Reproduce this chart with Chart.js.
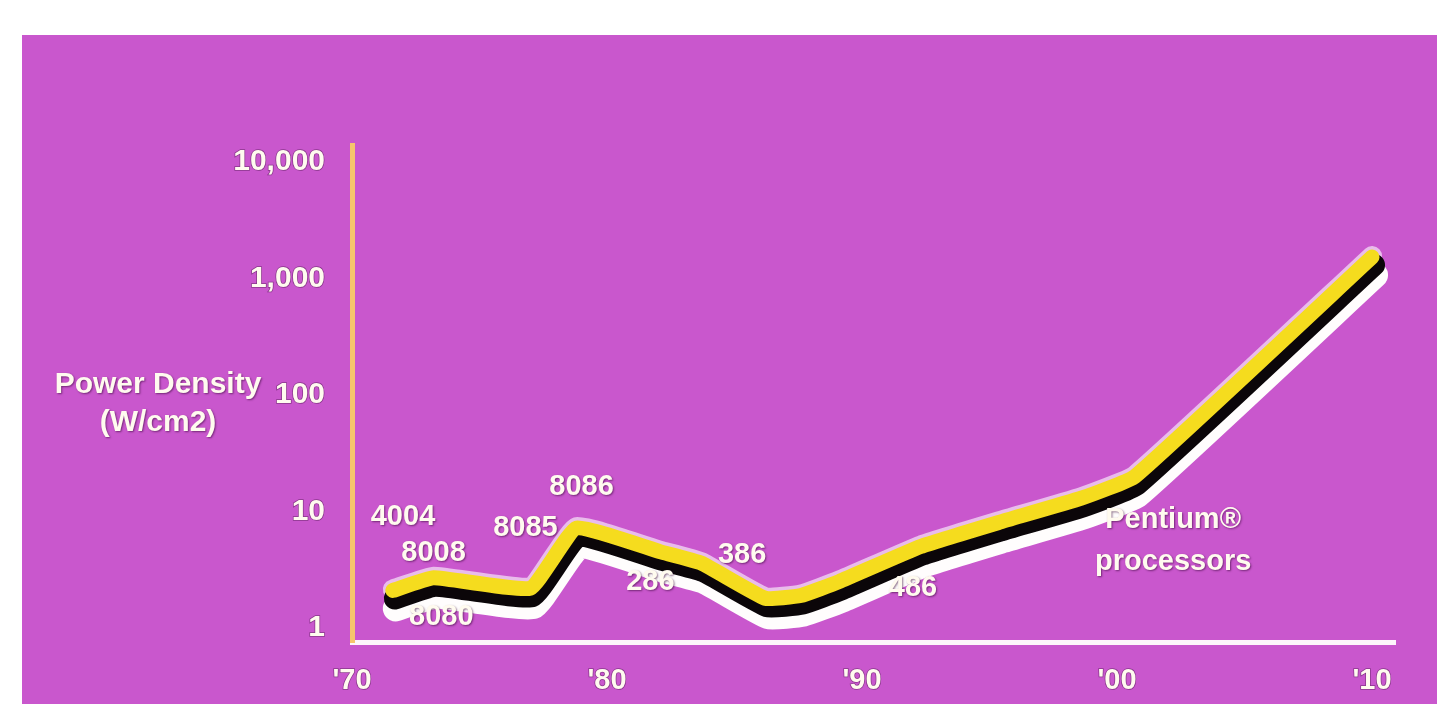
<!DOCTYPE html>
<html>
<head>
<meta charset="utf-8">
<title>Power Density</title>
<script src="https://cdn.jsdelivr.net/npm/chart.js@4.4.1/dist/chart.umd.min.js"></script>
<style>
  html, body { margin: 0; padding: 0; background: #ffffff; }
  canvas { display: block; }
</style>
</head>
<body>
<canvas id="chart" width="1437" height="707"></canvas>
<script>
// Processor power density over time (W/cm2), log scale
const years = [1971.6, 1973.2, 1977.0, 1978.8, 1982.1, 1983.7, 1986.2, 1987.6, 1989.1, 1992.3, 1995.4, 1998.6, 2000.7, 2010.0];
const powerDensity = [2.1, 2.7, 2.2, 7.2, 4.5, 3.6, 1.8, 1.9, 2.5, 5.0, 8.1, 13, 20, 1530];

// Axis ticks
const yTicks = [1, 10, 100, 1000, 10000];
const xTicks = [1970, 1980, 1990, 2000, 2010];
const xTickLabels = ["'70", "'80", "'90", "'00", "'10"];

// Processor names and where they sit (year, W/cm2)
const chipNames = ['4004', '8008', '8080', '8085', '8086', '286', '386', '486', 'Pentium®\nprocessors'];
const chipYears = [1972.0, 1973.2, 1973.5, 1976.8, 1979.0, 1981.7, 1985.3, 1992.0, 2002.2];
const chipLabelValues = [9.0, 4.4, 1.24, 7.2, 16.2, 2.5, 4.2, 2.2, 5.6];

const FONT = '"Liberation Sans", Arial, Helvetica, sans-serif';
const TEXT = '#fffbef';

const points = years.map((x, i) => ({ x, y: powerDensity[i] }));

// Magenta panel behind everything
const panelPlugin = {
  id: 'panel',
  beforeDraw(chart) {
    const ctx = chart.ctx;
    ctx.save();
    ctx.fillStyle = '#ffffff';
    ctx.fillRect(0, 0, chart.width, chart.height);
    ctx.fillStyle = '#c957cd';
    ctx.fillRect(22, 35, chart.width - 22, 669);
    ctx.restore();
  }
};

// Each stroke layer of the line can be nudged to build the drop shadow
const shiftPlugin = {
  id: 'strokeShift',
  beforeDatasetDraw(chart, args) {
    const s = chart.data.datasets[args.index].shift || [0, 0];
    chart.ctx.save();
    chart.ctx.translate(s[0], s[1]);
  },
  afterDatasetDraw(chart) {
    chart.ctx.restore();
  }
};

// Processor names and the y-axis title
const labelPlugin = {
  id: 'chipLabels',
  afterDraw(chart) {
    const { ctx, scales: { x, y }, chartArea } = chart;
    ctx.save();
    ctx.textAlign = 'center';
    ctx.textBaseline = 'middle';
    ctx.fillStyle = TEXT;
    ctx.shadowColor = 'rgba(50,0,50,0.55)';
    ctx.shadowBlur = 2;
    ctx.shadowOffsetX = 1;
    ctx.shadowOffsetY = 1;
    ctx.font = 'bold 29px ' + FONT;
    chipNames.forEach((name, i) => {
      const px = x.getPixelForValue(chipYears[i]);
      const py = y.getPixelForValue(chipLabelValues[i]);
      const lines = name.split('\n');
      lines.forEach((ln, j) => {
        ctx.fillText(ln, px, py + (j - (lines.length - 1) / 2) * 42);
      });
    });
    ctx.font = 'bold 30px ' + FONT;
    const tx = chartArea.left - 194;
    const ty = y.getPixelForValue(100);
    ctx.fillText('Power Density', tx, ty - 10);
    ctx.fillText('(W/cm2)', tx, ty + 28);
    ctx.restore();
  }
};

const lineBase = {
  data: points,
  pointRadius: 0,
  pointHoverRadius: 0,
  tension: 0.12,
  fill: false,
  clip: false,
  borderCapStyle: 'round',
  borderJoinStyle: 'round'
};

new Chart(document.getElementById('chart'), {
  type: 'line',
  data: {
    datasets: [
      Object.assign({}, lineBase, { label: 'Power density', borderColor: '#f5dc1e', borderWidth: 15, shift: [0, 0] }),
      Object.assign({}, lineBase, { label: 'shadow', borderColor: '#0b0609', borderWidth: 22, shift: [2, 8] }),
      Object.assign({}, lineBase, { label: 'halo', borderColor: 'rgba(255,255,255,0.6)', borderWidth: 20, shift: [0, -1] }),
      Object.assign({}, lineBase, { label: 'rim', borderColor: '#fffdfd', borderWidth: 26, shift: [3, 18] })
    ]
  },
  options: {
    responsive: false,
    animation: false,
    events: [],
    layout: { padding: { top: 145, right: 42, bottom: 0, left: 0 } },
    plugins: {
      legend: { display: false },
      tooltip: { enabled: false },
      title: { display: false }
    },
    scales: {
      x: {
        type: 'linear',
        min: 1970,
        max: 2010.9,
        afterBuildTicks: s => { s.ticks = xTicks.map(v => ({ value: v })); },
        afterFit: s => { s.height = 65; },
        grid: { display: false },
        border: { display: true, color: '#fdf5fb', width: 5 },
        ticks: {
          color: TEXT,
          font: { family: FONT, size: 29, weight: 'bold' },
          padding: 14,
          maxRotation: 0,
          autoSkip: false,
          textStrokeColor: 'rgba(70,20,70,0.5)',
          textStrokeWidth: 1.5,
          callback: v => xTickLabels[xTicks.indexOf(v)]
        }
      },
      y: {
        type: 'logarithmic',
        min: 0.758,
        max: 13990,
        afterBuildTicks: s => { s.ticks = yTicks.map(v => ({ value: v })); },
        afterFit: s => { s.width = 352; },
        grid: { display: false },
        border: { display: true, color: '#f6c56c', width: 5 },
        ticks: {
          color: TEXT,
          font: { family: FONT, size: 30, weight: 'bold' },
          padding: 19,
          autoSkip: false,
          textStrokeColor: 'rgba(70,20,70,0.5)',
          textStrokeWidth: 1.5,
          callback: v => Number(v).toLocaleString('en-US')
        }
      }
    }
  },
  plugins: [panelPlugin, shiftPlugin, labelPlugin]
});
</script>
</body>
</html>
